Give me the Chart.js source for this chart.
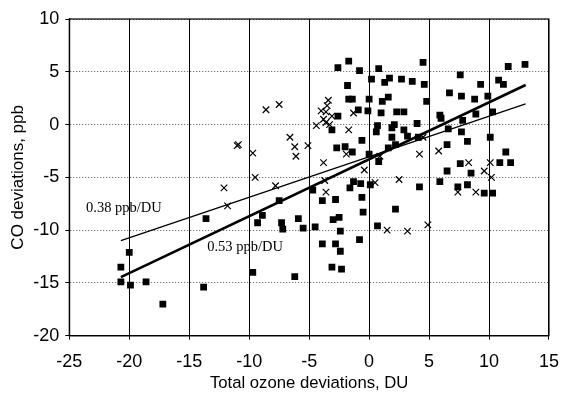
<!DOCTYPE html>
<html>
<head>
<meta charset="utf-8">
<script src="https://cdn.jsdelivr.net/npm/chart.js@4/dist/chart.umd.min.js"></script>
<style>
  html, body { margin: 0; padding: 0; background: #fff; }
  #wrap { width: 571px; height: 394px; }
</style>
</head>
<body>
<div id="wrap"><canvas id="ozoneChart" width="571" height="394"></canvas></div>
<script>
// Filled squares
const squareX = [-20.7, -20.7, -20.0, -19.9, -18.6, -17.2, -13.8, -13.6, -9.7, -9.3, -8.9, -7.5, -7.3, -7.2, -5.9, -5.5, -6.2, -4.7, -4.5, -3.9,
  -2.8, -3.9, -3.0, -2.5, -2.4, -2.8, -2.4, -3.1, -2.3, -0.8, -0.6, -0.5, 0.7, 2.2, 9.6, 10.3, -2.6, -1.7, -0.8, 0.8,
  4.5, 11.6, 13.0, 0.2, 1.7, 1.3, 2.7, 3.6, 4.6, 7.6, 9.3, 10.8, 11.2, -1.8, -1.7, -1.4, 0.0, 1.1, 1.6, 4.8,
  6.7, 7.7, 8.8, 9.9, -0.9, -0.1, 1.0, 2.3, 2.9, -2.6, 5.9, 6.0, 8.9, 10.3, 7.8, 0.7, 1.9, 2.1, 4.0, 0.6,
  1.9, 2.9, 3.2, 4.1, 6.6, 7.7, -3.1, -0.6, -2.7, -2.0, -1.4, 0.0, 0.8, 1.6, 2.2, 6.5, 8.2, 10.1, 11.4, 10.9,
  11.8, 7.6, 8.5, 6.5, 5.9, 7.4, 8.2, 4.2, -1.3, -0.7, -1.6, 0.1];
const squareY = [-13.5, -14.9, -12.1, -15.2, -14.9, -17.0, -15.4, -8.9, -14.0, -9.3, -8.6, -7.2, -9.3, -9.9, -8.9, -9.8, -14.4, -6.2, -9.7, -7.2,
  -7.1, -11.3, -9.0, -8.8, -10.1, -11.3, -12.0, -13.5, -13.7, -10.9, -6.9, -8.3, -9.6, -8.0, -6.5, -6.5, 5.4, 6.0, 5.1, 5.3,
  5.9, 5.5, 5.7, 4.3, 4.4, 4.0, 4.3, 4.1, 3.8, 4.7, 3.8, 4.2, 3.8, 3.7, 2.4, 2.4, 2.4, 2.2, 2.6, 2.2,
  3.0, 2.7, 2.4, 2.7, 1.4, 1.3, 1.1, 1.2, 1.2, 0.8, 0.9, 0.6, 1.0, 1.2, 0.4, -0.1, -0.3, 0.0, 0.1, -0.7,
  -1.2, -0.5, -1.1, -1.2, -0.4, -0.7, -0.5, -1.5, -2.2, -2.1, -2.6, -2.8, -3.5, -2.2, -1.9, -1.9, -1.6, -1.2, -2.6, -3.6,
  -3.6, -3.7, -4.6, -4.4, -5.4, -5.9, -5.7, -5.9, -5.4, -5.6, -6.0, -5.7];

// Crosses
const crossX = [-11.8, -3.6, 1.5, 3.2, 4.9, 7.4, 8.9, -8.6, -7.5, -11.0, -10.9, -9.7, -9.5, -12.1, -7.8, -6.6, -6.2, -6.1, -5.1, -4.4,
  -3.4, -3.5, -4.0, -3.6, -3.1, -3.8, -3.6, -3.3, -1.7, -1.3, -3.8, -1.9, 4.2, 5.8, 4.5, -0.4, 0.9, 8.3, 10.1, 9.6,
  10.2, 2.5, 0.5, -3.7];
const crossY = [-7.7, -6.4, -10.0, -10.1, -9.5, -6.4, -6.4, 1.4, 1.9, -2.0, -1.9, -2.7, -5.0, -6.0, -5.8, -1.2, -2.1, -3.0, -2.0, -0.1,
  2.3, 1.8, 1.3, 1.2, 0.8, 0.5, 0.2, 0.0, -0.5, 1.1, -3.6, -2.8, -2.8, -2.5, -1.2, -4.3, -3.0, -3.6, -3.6, -4.4,
  -5.0, -5.2, -5.5, -5.3];

// Regression lines (end points)
const fitX = [-20.7, 13.05];
const thinFitY = [-11.0, 1.95];
const thickFitY = [-14.45, 3.75];
const fitLabels = ['0.38 ppb/DU', '0.53 ppb/DU'];
const labelAt = [[-23.6, -8.3], [-13.5, -12.0]];

const xTicks = [-25, -20, -15, -10, -5, 0, 5, 10, 15];
const yTicks = [-20, -15, -10, -5, 0, 5, 10];

const pts = (xs, ys) => xs.map((x, i) => ({x: x, y: ys[i]}));

// frame + slope labels
const extras = {
    id: 'extras',
    afterDatasetsDraw(chart) {
        const {ctx, chartArea, scales} = chart;
        ctx.save();
        ctx.strokeStyle = '#000';
        ctx.lineWidth = 1.2;
        ctx.strokeRect(chartArea.left, chartArea.top, chartArea.right - chartArea.left, chartArea.bottom - chartArea.top);
        ctx.fillStyle = '#000';
        ctx.font = '14.5px "Liberation Serif", "Times New Roman", serif';
        ctx.textBaseline = 'alphabetic';
        fitLabels.forEach((t, i) => {
            ctx.fillText(t, scales.x.getPixelForValue(labelAt[i][0]), scales.y.getPixelForValue(labelAt[i][1]));
        });
        ctx.restore();
    }
};

const ctx = document.getElementById('ozoneChart').getContext('2d');
const ozoneChart = new Chart(ctx, {
    type: 'scatter',
    data: {
        datasets: [
            {
                label: 'squares',
                data: pts(squareX, squareY),
                pointStyle: 'rect',
                pointRadius: 4.8,
                backgroundColor: '#000',
                borderColor: '#000',
                borderWidth: 0
            },
            {
                label: 'crosses',
                data: pts(crossX, crossY),
                pointStyle: 'crossRot',
                pointRadius: 4.6,
                borderColor: '#000',
                borderWidth: 1.2
            },
            {
                label: '0.38',
                data: pts(fitX, thinFitY),
                showLine: true,
                pointRadius: 0,
                borderColor: '#000',
                borderWidth: 1.3
            },
            {
                label: '0.53',
                data: pts(fitX, thickFitY),
                showLine: true,
                pointRadius: 0,
                borderColor: '#000',
                borderWidth: 2.6
            }
        ]
    },
    options: {
        responsive: false,
        animation: false,
        layout: { padding: { top: 19, right: 10, left: 0, bottom: 0 } },
        scales: {
            x: {
                min: -25, max: 15,
                afterBuildTicks: (s) => { s.ticks = xTicks.map(v => ({value: v})); },
                afterFit: (s) => { s.height = 58.3; },
                border: { color: '#000', width: 1.2 },
                grid: { color: '#000', lineWidth: 1, tickLength: 4, tickColor: '#000' },
                ticks: { color: '#000', padding: 12, maxRotation: 0, font: { family: '"Liberation Sans", Arial, sans-serif', size: 18 } },
                title: {
                    display: true,
                    text: 'Total ozone deviations, DU',
                    color: '#000',
                    padding: { top: 0, bottom: 1 },
                    font: { family: '"Liberation Sans", Arial, sans-serif', size: 16.7 }
                }
            },
            y: {
                min: -20, max: 10,
                afterBuildTicks: (s) => { s.ticks = yTicks.map(v => ({value: v})); },
                afterFit: (s) => { s.width = 69.3; },
                border: { color: '#000', width: 1.2, dash: [1, 2] },
                grid: { color: '#555', lineWidth: 1, tickLength: 4, tickColor: '#000', tickBorderDash: [] },
                ticks: { color: '#000', padding: 6, font: { family: '"Liberation Sans", Arial, sans-serif', size: 18 } },
                title: {
                    display: true,
                    text: 'CO deviations, ppb',
                    color: '#000',
                    padding: { top: 8, bottom: 0 },
                    font: { family: '"Liberation Sans", Arial, sans-serif', size: 17 }
                }
            }
        },
        plugins: {
            legend: { display: false },
            tooltip: { enabled: false }
        }
    },
    plugins: [extras]
});
</script>
</body>
</html>
